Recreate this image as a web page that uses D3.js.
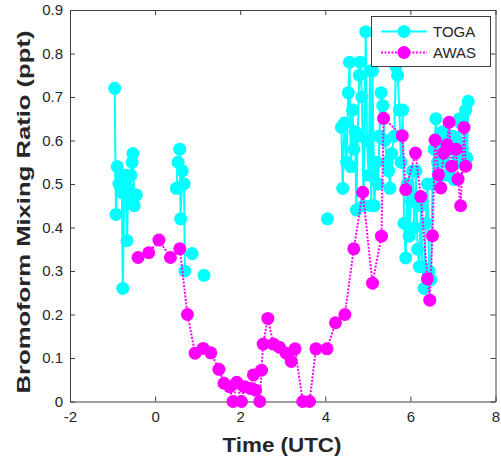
<!DOCTYPE html>
<html>
<head>
<meta charset="utf-8">
<script src="https://cdn.jsdelivr.net/npm/d3@7/dist/d3.min.js"></script>
<style>
  html, body { margin: 0; padding: 0; background: #fff; }
  svg { display: block; }
  text { font-family: "Liberation Sans", Arial, Helvetica, sans-serif; fill: #262626; }
</style>
</head>
<body>
<svg id="chart" width="501" height="461"></svg>
<script>
// ---------- data ----------
const seriesNames = ["TOGA", "AWAS"];
const xTicks = [-2, 0, 2, 4, 6, 8];
const xTickLabels = ["-2", "0", "2", "4", "6", "8"];
const yTicks = [0, 0.1, 0.2, 0.3, 0.4, 0.5, 0.6, 0.7, 0.8, 0.9];
const yTickLabels = ["0", "0.1", "0.2", "0.3", "0.4", "0.5", "0.6", "0.7", "0.8", "0.9"];

// TOGA (null marks a gap in the record)
const togaTime = [
  -0.95, -0.92, -0.89, -0.85, -0.81, -0.78, -0.76, -0.72, -0.69, -0.66, -0.63, -0.60, -0.57, -0.54, -0.52, -0.49, -0.44,
  -0.40,
  0.50, 0.54, 0.58, 0.60, 0.64, 0.68, 0.70,
  0.78,
  0.87,
  1.00,
  1.15,
  2.50,
  4.05,
  4.20,
  4.38, 4.41, 4.45, 4.50, 4.54, 4.57, 4.60, 4.64, 4.67, 4.70, 4.73, 4.76, 4.80, 4.82, 4.86, 4.90, 4.95, 4.98,
  5.02, 5.05, 5.08, 5.11, 5.15, 5.20, 5.24, 5.27, 5.31, 5.35, 5.40, 5.45, 5.49, 5.52, 5.56, 5.62, 5.66, 5.70,
  5.74, 5.78, 5.82, 5.85, 5.89, 5.93, 5.97, 6.01, 6.05, 6.09, 6.13, 6.17, 6.21, 6.25, 6.28, 6.32, 6.36, 6.40,
  6.44, 6.48, 6.52, 6.56, 6.60, 6.64, 6.68, 6.72, 6.75, 6.80, 6.84, 6.88, 6.92, 6.96, 6.99, 7.03, 7.07, 7.11,
  7.15, 7.18, 7.22, 7.26, 7.30, 7.33, 7.36
];
const togaValue = [
  0.72, 0.43, 0.54, 0.50, 0.52, 0.48, 0.26, 0.50, 0.52, 0.37, 0.49, 0.46, 0.52, 0.55, 0.57, 0.45, 0.475,
  null,
  0.49, 0.55, 0.58, 0.42, 0.53, 0.50, 0.30,
  null,
  0.34,
  null,
  0.29,
  null,
  0.42,
  null,
  0.63, 0.49, 0.64, 0.55, 0.71, 0.78, 0.54, 0.67, 0.58, 0.62, 0.44, 0.61, 0.75, 0.78, 0.70, 0.45, 0.85, 0.60,
  0.52, 0.76, 0.45, 0.76, 0.45, 0.55, 0.50, 0.61, 0.71, 0.68, 0.60, 0.55, 0.53, 0.49, 0.57, 0.61, 0.77, 0.75,
  0.67, 0.55, 0.67, 0.41, 0.33, 0.50, 0.38, 0.46, 0.53, 0.40, 0.53, 0.35, 0.31, 0.45, 0.31, 0.26, 0.41, 0.50,
  0.30, 0.28, 0.50, 0.58, 0.65, 0.55, 0.60, 0.52, 0.62, 0.55, 0.60, 0.52, 0.58, 0.61, 0.61, 0.51, 0.60, 0.55,
  0.65, 0.64, 0.58, 0.56, 0.67, 0.56, 0.69
];

// AWAS
const awasTime = [
  -0.40, -0.15, 0.09, 0.36, 0.58, 0.76, 0.94, 1.13, 1.31, 1.50, 1.62, 1.75, 1.83, 1.92, 2.03, 2.10, 2.24, 2.31,
  2.36, 2.46, 2.50, 2.54, 2.65, 2.78, 2.92, 3.08, 3.20, 3.29, 3.47, 3.63, 3.78, 4.04, 4.24, 4.46, 4.67, 4.88,
  5.11, 5.32, 5.37, 5.81, 5.89, 6.12, 6.245, 6.40, 6.455, 6.52, 6.58, 6.66, 6.715, 6.78, 6.86, 6.91, 6.97,
  7.07, 7.12, 7.18, 7.26, 7.30
];
const awasValue = [
  0.331, 0.342, 0.371, 0.331, 0.351, 0.200, 0.111, 0.122, 0.112, 0.074, 0.042, 0.034, 0.000, 0.044, 0.000, 0.034, 0.030, 0.061,
  0.026, 0.000, 0.072, 0.132, 0.191, 0.132, 0.125, 0.111, 0.092, 0.121, 0.000, 0.000, 0.121, 0.121, 0.181, 0.200, 0.351, 0.481,
  0.272, 0.380, 0.651, 0.611, 0.487, 0.571, 0.471, 0.282, 0.233, 0.381, 0.601, 0.521, 0.491, 0.571, 0.590, 0.642, 0.541,
  0.580, 0.511, 0.450, 0.630, 0.541
];

const togaColor = "#00ffff";
const awasColor = "#ff00ff";

// ---------- layout ----------
const svg = d3.select("#chart");
const plot = { left: 70, right: 495.5, top: 10, bottom: 401.5 };

const x = d3.scaleLinear().domain([-2, 8]).range([plot.left, plot.right]);
const y = d3.scaleLinear().domain([0, 0.9]).range([plot.bottom, plot.top]);

const axisColor = "#404040";
const tickLen = 5;

function styleAxis(g) {
  g.select(".domain").attr("stroke", axisColor).attr("stroke-width", 1);
  g.selectAll(".tick line").attr("stroke", axisColor).attr("stroke-width", 1);
  g.selectAll(".tick text").attr("fill", "#262626").style("font-size", "15px")
    .style("font-family", "'Liberation Sans', Arial, sans-serif");
}

// bottom
svg.append("g").attr("transform", `translate(0,${plot.bottom})`)
  .call(d3.axisBottom(x).tickValues(xTicks).tickFormat((d, i) => xTickLabels[i]).tickSizeInner(-tickLen).tickSizeOuter(0).tickPadding(10))
  .call(styleAxis);
// top
svg.append("g").attr("transform", `translate(0,${plot.top})`)
  .call(d3.axisTop(x).tickValues(xTicks).tickFormat("").tickSizeInner(-tickLen).tickSizeOuter(0))
  .call(styleAxis);
// left
svg.append("g").attr("transform", `translate(${plot.left},0)`)
  .call(d3.axisLeft(y).tickValues(yTicks).tickFormat((d, i) => yTickLabels[i]).tickSizeInner(-tickLen).tickSizeOuter(0).tickPadding(7))
  .call(styleAxis);
// right
svg.append("g").attr("transform", `translate(${plot.right},0)`)
  .call(d3.axisRight(y).tickValues(yTicks).tickFormat("").tickSizeInner(-tickLen).tickSizeOuter(0))
  .call(styleAxis);

// ---------- series ----------
const r = 6.5;
const toga = togaTime.map((t, i) => ({ t, v: togaValue[i] }));
const awas = awasTime.map((t, i) => ({ t, v: awasValue[i] }));

const line = d3.line().defined(d => d.v !== null).x(d => x(d.t)).y(d => y(d.v));

const gPlot = svg.append("g");

gPlot.append("path").datum(toga).attr("d", line)
  .attr("fill", "none").attr("stroke", togaColor).attr("stroke-width", 2);
gPlot.append("g").selectAll("circle").data(toga.filter(d => d.v !== null)).join("circle")
  .attr("cx", d => x(d.t)).attr("cy", d => y(d.v)).attr("r", r).attr("fill", togaColor);

gPlot.append("path").datum(awas).attr("d", line)
  .attr("fill", "none").attr("stroke", awasColor).attr("stroke-width", 2).attr("stroke-dasharray", "2,1.5");
gPlot.append("g").selectAll("circle").data(awas).join("circle")
  .attr("cx", d => x(d.t)).attr("cy", d => y(d.v)).attr("r", r).attr("fill", awasColor);

// ---------- legend ----------
const lg = svg.append("g");
lg.append("rect").attr("x", 371.5).attr("y", 16.5).attr("width", 119).attr("height", 50)
  .attr("fill", "#fff").attr("stroke", axisColor).attr("stroke-width", 1);
const legendRows = [
  { name: seriesNames[0], color: togaColor, dash: null, yy: 31.5 },
  { name: seriesNames[1], color: awasColor, dash: "2,1.5", yy: 52.5 }
];
legendRows.forEach(row => {
  lg.append("line").attr("x1", 381).attr("x2", 427).attr("y1", row.yy).attr("y2", row.yy)
    .attr("stroke", row.color).attr("stroke-width", 2).attr("stroke-dasharray", row.dash);
  lg.append("circle").attr("cx", 404).attr("cy", row.yy).attr("r", r).attr("fill", row.color);
  lg.append("text").attr("x", 433).attr("y", row.yy).attr("dy", "0.35em")
    .style("font-size", "15px").text(row.name);
});

// ---------- axis labels ----------
svg.append("text").attr("x", 282).attr("y", 445).attr("dy", "0.35em")
  .attr("text-anchor", "middle").style("font-size", "21px").style("font-weight", "bold")
  .attr("textLength", 119).attr("lengthAdjust", "spacingAndGlyphs")
  .text("Time (UTC)");
svg.append("text").attr("transform", "translate(23,212) rotate(-90)").attr("dy", "0.35em")
  .attr("text-anchor", "middle").style("font-size", "19px").style("font-weight", "bold")
  .attr("textLength", 363).attr("lengthAdjust", "spacingAndGlyphs")
  .text("Bromoform Mixing Ratio (ppt)");
</script>
</body>
</html>
